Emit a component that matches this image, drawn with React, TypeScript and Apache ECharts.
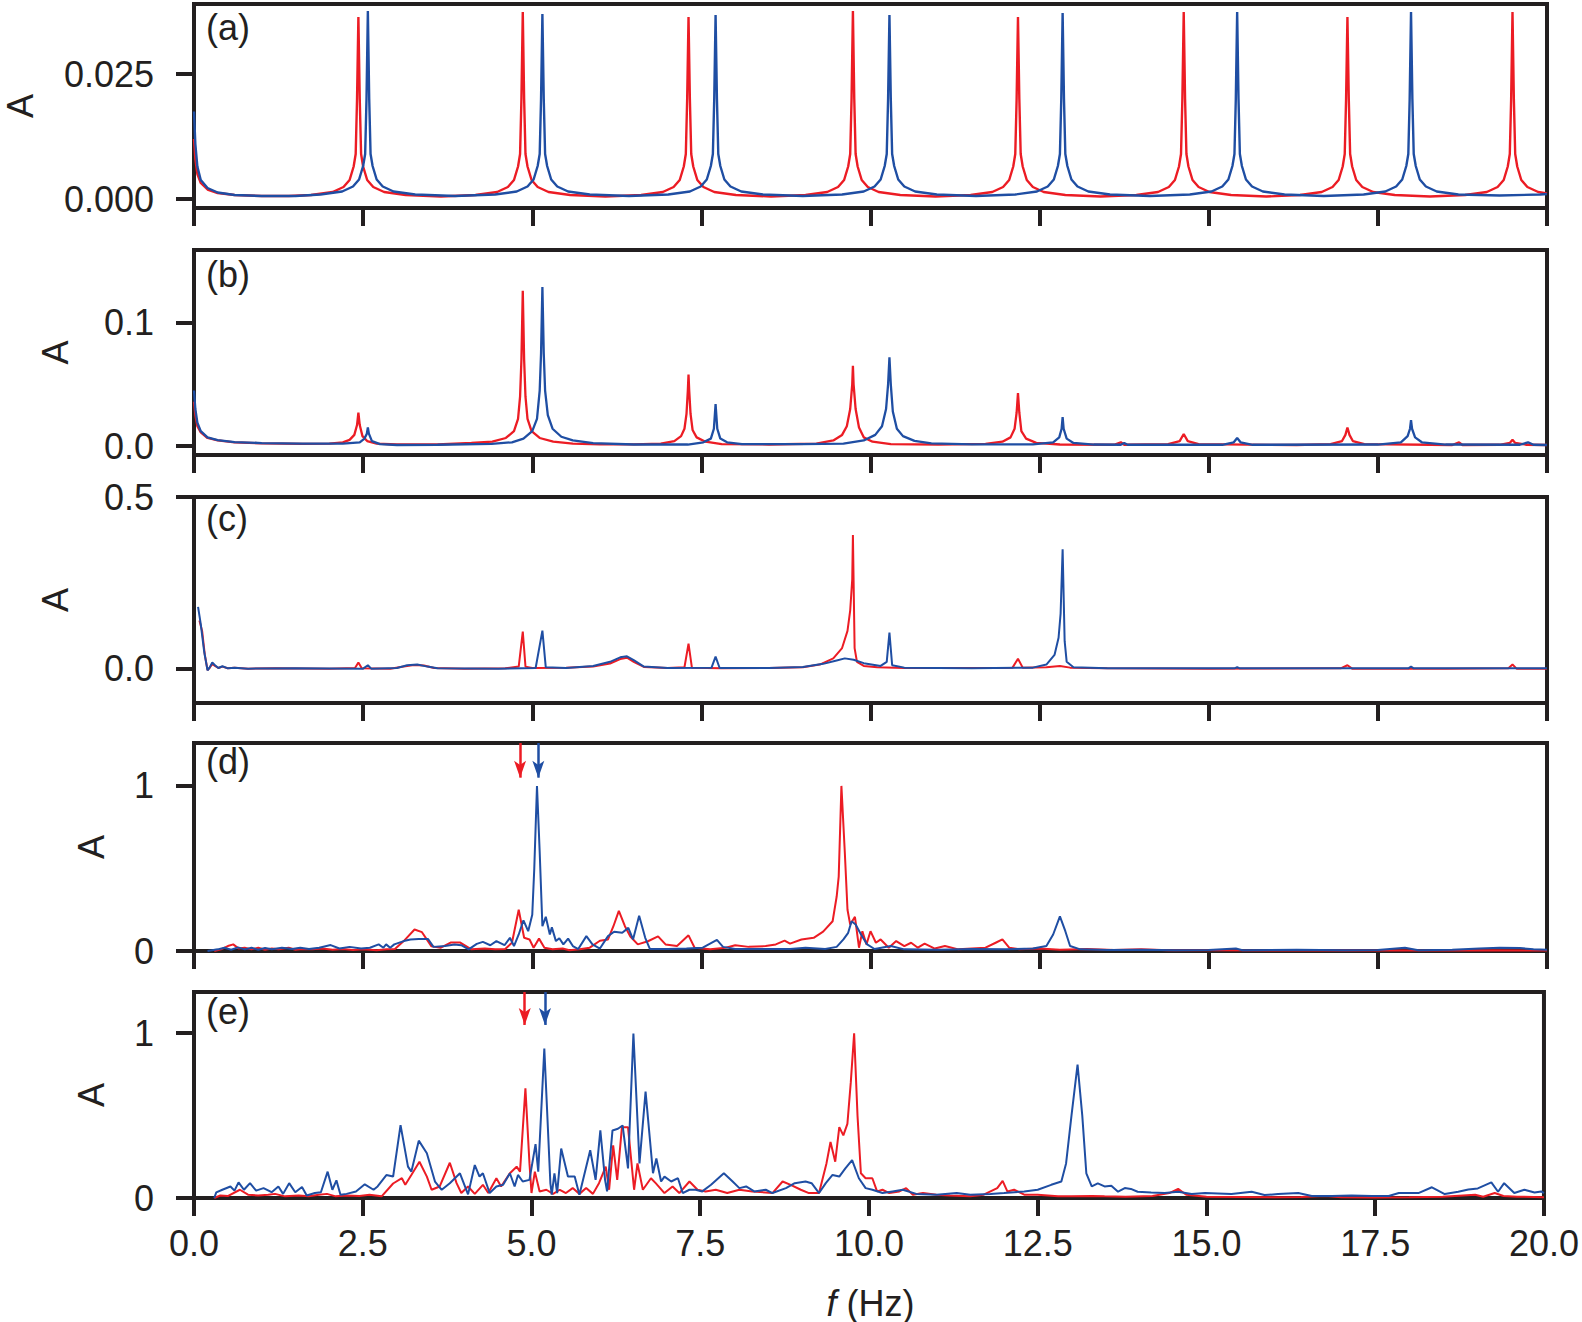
import React, { useEffect, useRef } from "react";
import * as echarts from "echarts";

const RED = "#ec1c24";
const BLUE = "#1f4ea3";
const INK = "#231f20";
const FONT = "'Liberation Sans', Arial, Helvetica, sans-serif";

// ---------- data ----------
const panelLabels = ["(a)", "(b)", "(c)", "(d)", "(e)"];
const yMin = [-0.0018, -0.0073, -0.1, 0, 0];
const yMax = [0.039, 0.159, 0.5, 1.26, 1.25];
const yTicks = [[0, 0.025], [0, 0.1], [0, 0.5], [0, 1], [0, 1]];
const yDecimals = [3, 1, 1, 0, 0];
const xMin = 0;
const xMax = 20;
const xStep = 2.5;
const dArrows = [4.82, 5.09]; // red, blue
const eArrows = [4.9, 5.2]; // red, blue
const arrowTip = 1.05;

const aRed: number[][] = [
  [0, 0.012], [0.02, 0.008], [0.05, 0.005], [0.1, 0.0032], [0.2, 0.0019], [0.35, 0.0012], [0.6, 0.0008], [1.0, 0.0006], [1.4, 0.0006],
  [1.73, 0.0008], [2.05, 0.0014], [2.21, 0.0024], [2.3, 0.0038], [2.36, 0.0065], [2.39, 0.009], [2.41, 0.02], [2.43, 0.0364], [2.45, 0.02], [2.47, 0.009], [2.5, 0.0065], [2.56, 0.0038], [2.65, 0.0024], [2.81, 0.0014], [3.13, 0.0008], [3.65, 0.0005],
  [4.16, 0.0008], [4.48, 0.0014], [4.64, 0.0024], [4.73, 0.0038], [4.79, 0.0065], [4.82, 0.009], [4.84, 0.02], [4.86, 0.0374], [4.88, 0.02], [4.9, 0.009], [4.93, 0.0065], [4.99, 0.0038], [5.08, 0.0024], [5.24, 0.0014], [5.56, 0.0008], [6.08, 0.0005],
  [6.61, 0.0008], [6.93, 0.0014], [7.09, 0.0024], [7.18, 0.0038], [7.24, 0.0065], [7.27, 0.009], [7.29, 0.02], [7.31, 0.0364], [7.33, 0.02], [7.35, 0.009], [7.38, 0.0065], [7.44, 0.0038], [7.53, 0.0024], [7.69, 0.0014], [8.01, 0.0008], [8.53, 0.0005],
  [9.04, 0.0008], [9.36, 0.0014], [9.52, 0.0024], [9.61, 0.0038], [9.67, 0.0065], [9.7, 0.009], [9.72, 0.02], [9.74, 0.0376], [9.76, 0.02], [9.78, 0.009], [9.81, 0.0065], [9.87, 0.0038], [9.96, 0.0024], [10.12, 0.0014], [10.44, 0.0008], [10.96, 0.0005],
  [11.48, 0.0008], [11.8, 0.0014], [11.96, 0.0024], [12.05, 0.0038], [12.11, 0.0065], [12.14, 0.009], [12.16, 0.02], [12.18, 0.0364], [12.2, 0.02], [12.22, 0.009], [12.25, 0.0065], [12.31, 0.0038], [12.4, 0.0024], [12.56, 0.0014], [12.88, 0.0008], [13.4, 0.0005],
  [13.93, 0.0008], [14.25, 0.0014], [14.41, 0.0024], [14.5, 0.0038], [14.56, 0.0065], [14.59, 0.009], [14.61, 0.02], [14.63, 0.0374], [14.65, 0.02], [14.67, 0.009], [14.7, 0.0065], [14.76, 0.0038], [14.85, 0.0024], [15.01, 0.0014], [15.33, 0.0008], [15.85, 0.0005],
  [16.35, 0.0008], [16.67, 0.0014], [16.83, 0.0024], [16.92, 0.0038], [16.98, 0.0065], [17.01, 0.009], [17.03, 0.02], [17.05, 0.0364], [17.07, 0.02], [17.09, 0.009], [17.12, 0.0065], [17.18, 0.0038], [17.27, 0.0024], [17.43, 0.0014], [17.75, 0.0008], [18.27, 0.0005],
  [18.79, 0.0008], [19.11, 0.0014], [19.27, 0.0024], [19.36, 0.0038], [19.42, 0.0065], [19.45, 0.009], [19.47, 0.02], [19.49, 0.0374], [19.51, 0.02], [19.53, 0.009], [19.56, 0.0065], [19.62, 0.0038], [19.71, 0.0024], [19.87, 0.0014], [20, 0.0011],
];

const aBlue: number[][] = [
  [0, 0.0175], [0.02, 0.011], [0.05, 0.0065], [0.1, 0.0038], [0.2, 0.0022], [0.35, 0.0013], [0.6, 0.0008], [1.0, 0.0006], [1.5, 0.0006],
  [1.87, 0.0009], [2.19, 0.0015], [2.35, 0.0025], [2.44, 0.0039], [2.5, 0.0066], [2.53, 0.009], [2.55, 0.02], [2.57, 0.0376], [2.59, 0.02], [2.61, 0.009], [2.64, 0.0066], [2.7, 0.0039], [2.79, 0.0025], [2.95, 0.0015], [3.27, 0.0009], [3.86, 0.0006],
  [4.45, 0.0009], [4.77, 0.0015], [4.93, 0.0025], [5.02, 0.0039], [5.08, 0.0066], [5.11, 0.009], [5.13, 0.02], [5.15, 0.037], [5.17, 0.02], [5.19, 0.009], [5.22, 0.0066], [5.28, 0.0039], [5.37, 0.0025], [5.53, 0.0015], [5.85, 0.0009], [6.43, 0.0006],
  [7.01, 0.0009], [7.33, 0.0015], [7.49, 0.0025], [7.58, 0.0039], [7.64, 0.0066], [7.67, 0.009], [7.69, 0.02], [7.71, 0.0368], [7.73, 0.02], [7.75, 0.009], [7.78, 0.0066], [7.84, 0.0039], [7.93, 0.0025], [8.09, 0.0015], [8.41, 0.0009], [9.0, 0.0006],
  [9.58, 0.0009], [9.9, 0.0015], [10.06, 0.0025], [10.15, 0.0039], [10.21, 0.0066], [10.24, 0.009], [10.26, 0.02], [10.28, 0.0368], [10.3, 0.02], [10.32, 0.009], [10.35, 0.0066], [10.41, 0.0039], [10.5, 0.0025], [10.66, 0.0015], [10.98, 0.0009], [11.56, 0.0006],
  [12.14, 0.0009], [12.46, 0.0015], [12.62, 0.0025], [12.71, 0.0039], [12.77, 0.0066], [12.8, 0.009], [12.82, 0.02], [12.84, 0.0372], [12.86, 0.02], [12.88, 0.009], [12.91, 0.0066], [12.97, 0.0039], [13.06, 0.0025], [13.22, 0.0015], [13.54, 0.0009], [14.13, 0.0006],
  [14.72, 0.0009], [15.04, 0.0015], [15.2, 0.0025], [15.29, 0.0039], [15.35, 0.0066], [15.38, 0.009], [15.4, 0.02], [15.42, 0.0374], [15.44, 0.02], [15.46, 0.009], [15.49, 0.0066], [15.55, 0.0039], [15.64, 0.0025], [15.8, 0.0015], [16.12, 0.0009], [16.7, 0.0006],
  [17.29, 0.0009], [17.61, 0.0015], [17.77, 0.0025], [17.86, 0.0039], [17.92, 0.0066], [17.95, 0.009], [17.97, 0.02], [17.99, 0.0374], [18.01, 0.02], [18.03, 0.009], [18.06, 0.0066], [18.12, 0.0039], [18.21, 0.0025], [18.37, 0.0015], [18.69, 0.0009], [19.3, 0.0007], [19.9, 0.0009], [20, 0.001],
];

const bRed: number[][] = [
  [0, 0.036], [0.02, 0.025], [0.05, 0.016], [0.1, 0.011], [0.2, 0.0065], [0.35, 0.0045], [0.6, 0.003], [1.0, 0.0022], [1.6, 0.0018],
  [2.0, 0.002], [2.2, 0.003], [2.3, 0.005], [2.37, 0.009], [2.41, 0.017], [2.43, 0.027], [2.45, 0.017], [2.49, 0.008], [2.56, 0.004], [2.7, 0.002], [3.0, 0.0012], [3.6, 0.0012],
  [4.1, 0.0025], [4.41, 0.0035], [4.61, 0.0065], [4.73, 0.012], [4.79, 0.022], [4.82, 0.04], [4.84, 0.07], [4.86, 0.126], [4.88, 0.07], [4.9, 0.04], [4.93, 0.022], [4.99, 0.012], [5.11, 0.0065], [5.31, 0.0035], [5.6, 0.002], [6.0, 0.0013], [6.5, 0.0014],
  [6.9, 0.002], [7.1, 0.004], [7.2, 0.008], [7.25, 0.014], [7.28, 0.026], [7.3, 0.045], [7.31, 0.058], [7.32, 0.045], [7.34, 0.026], [7.37, 0.013], [7.43, 0.007], [7.56, 0.0035], [7.8, 0.0016], [8.5, 0.0012],
  [9.2, 0.002], [9.45, 0.0045], [9.58, 0.009], [9.65, 0.016], [9.7, 0.03], [9.73, 0.05], [9.74, 0.065], [9.75, 0.05], [9.78, 0.03], [9.83, 0.015], [9.9, 0.007], [10.03, 0.0035], [10.3, 0.0016], [11.0, 0.0012],
  [11.7, 0.0018], [11.95, 0.0035], [12.07, 0.007], [12.13, 0.014], [12.16, 0.027], [12.18, 0.043], [12.2, 0.027], [12.23, 0.012], [12.3, 0.006], [12.45, 0.0025], [12.8, 0.0012], [13.6, 0.001], [13.7, 0.003], [13.75, 0.001],
  [14.4, 0.0015], [14.57, 0.004], [14.63, 0.0097], [14.69, 0.004], [14.85, 0.0015],
  [16.3, 0.0008], [16.8, 0.0015], [16.97, 0.004], [17.02, 0.009], [17.05, 0.015], [17.08, 0.009], [17.13, 0.004], [17.3, 0.0015], [18.6, 0.0008], [18.7, 0.003], [18.75, 0.0008],
  [19.3, 0.001], [19.45, 0.0025], [19.49, 0.005], [19.53, 0.0025], [19.7, 0.001], [20, 0.0008],
];

const bBlue: number[][] = [
  [0, 0.045], [0.02, 0.03], [0.05, 0.019], [0.1, 0.012], [0.2, 0.007], [0.35, 0.0048], [0.6, 0.0032], [1.0, 0.0024], [1.6, 0.002],
  [2.2, 0.002], [2.45, 0.003], [2.52, 0.006], [2.555, 0.01], [2.57, 0.015], [2.585, 0.01], [2.63, 0.004], [2.75, 0.0015], [3.0, 0.0008], [3.6, 0.001],
  [4.4, 0.0018], [4.7, 0.003], [4.87, 0.006], [5.0, 0.012], [5.07, 0.022], [5.11, 0.045], [5.13, 0.075], [5.15, 0.129], [5.17, 0.075], [5.19, 0.045], [5.23, 0.025], [5.3, 0.014], [5.43, 0.0075], [5.6, 0.0045], [5.9, 0.0024], [6.5, 0.0012],
  [7.3, 0.0012], [7.53, 0.003], [7.64, 0.006], [7.685, 0.014], [7.71, 0.034], [7.735, 0.014], [7.78, 0.006], [7.88, 0.003], [8.1, 0.0015], [9.0, 0.0015],
  [9.6, 0.002], [9.9, 0.0045], [10.07, 0.009], [10.17, 0.016], [10.23, 0.03], [10.26, 0.05], [10.28, 0.072], [10.3, 0.05], [10.33, 0.028], [10.39, 0.014], [10.48, 0.008], [10.65, 0.0042], [10.9, 0.0022], [11.5, 0.0014],
  [12.4, 0.0014], [12.7, 0.003], [12.79, 0.007], [12.825, 0.014], [12.84, 0.0235], [12.855, 0.014], [12.9, 0.006], [13.0, 0.0025], [13.3, 0.0012], [13.7, 0.001], [13.75, 0.0025], [13.8, 0.001],
  [15.2, 0.001], [15.37, 0.003], [15.42, 0.0065], [15.47, 0.003], [15.65, 0.001],
  [17.5, 0.0012], [17.84, 0.003], [17.94, 0.008], [17.975, 0.014], [17.99, 0.021], [18.005, 0.014], [18.05, 0.007], [18.15, 0.003], [18.5, 0.0012], [19.6, 0.001], [19.72, 0.003], [19.8, 0.001], [20, 0.0008],
];

const cRed: number[][] = [
  [0.08, 0.14], [0.12, 0.11], [0.16, 0.04], [0.2, -0.004], [0.23, 0.002], [0.27, 0.014], [0.31, 0.008], [0.36, 0.002], [0.42, 0.006], [0.5, 0.001], [0.6, 0.003], [0.8, 0.0], [1.2, 0.001], [2.0, 0.0],
  [2.38, 0.002], [2.43, 0.018], [2.48, 0.001], [2.9, 0.0], [3.1, 0.006], [3.25, 0.011], [3.4, 0.009], [3.55, 0.002], [4.0, 0.0], [4.6, 0.001], [4.8, 0.006], [4.86, 0.108], [4.9, 0.006], [5.0, 0.002],
  [5.5, 0.003], [5.9, 0.006], [6.15, 0.015], [6.3, 0.028], [6.4, 0.032], [6.5, 0.02], [6.65, 0.005], [7.0, 0.002], [7.25, 0.004], [7.31, 0.073], [7.36, 0.003], [7.8, 0.001], [8.5, 0.002],
  [9.0, 0.004], [9.25, 0.012], [9.45, 0.03], [9.58, 0.06], [9.66, 0.11], [9.7, 0.17], [9.73, 0.26], [9.74, 0.389], [9.765, 0.06], [9.8, 0.02], [9.9, 0.008], [10.1, 0.004], [10.5, 0.002], [11.0, 0.002],
  [12.1, 0.003], [12.18, 0.029], [12.25, 0.003], [12.6, 0.004], [12.8, 0.008], [12.95, 0.003], [13.5, 0.001], [15.0, 0.0], [16.95, 0.001], [17.05, 0.01], [17.12, 0.0], [18.5, 0.0],
  [19.43, 0.001], [19.49, 0.012], [19.55, 0.0], [20, 0.0],
];

const cBlue: number[][] = [
  [0.06, 0.18], [0.1, 0.13], [0.15, 0.05], [0.2, -0.005], [0.23, 0.003], [0.27, 0.018], [0.31, 0.01], [0.36, 0.002], [0.42, 0.007], [0.5, 0.001], [0.6, 0.003], [0.8, 0.0], [1.5, 0.001], [2.5, 0.0],
  [2.57, 0.01], [2.62, 0.0], [3.0, 0.002], [3.15, 0.01], [3.3, 0.012], [3.45, 0.006], [3.6, 0.001], [4.5, 0.0], [5.05, 0.002], [5.15, 0.111], [5.2, 0.004], [5.5, 0.002],
  [5.9, 0.008], [6.15, 0.02], [6.3, 0.033], [6.4, 0.036], [6.5, 0.025], [6.65, 0.006], [7.0, 0.002], [7.65, 0.003], [7.71, 0.035], [7.77, 0.002], [8.5, 0.002],
  [9.0, 0.005], [9.3, 0.014], [9.5, 0.024], [9.62, 0.03], [9.75, 0.026], [9.9, 0.016], [10.15, 0.008], [10.24, 0.02], [10.28, 0.105], [10.32, 0.01], [10.5, 0.003], [11.5, 0.001],
  [12.4, 0.003], [12.6, 0.012], [12.72, 0.04], [12.78, 0.09], [12.81, 0.16], [12.84, 0.348], [12.87, 0.08], [12.9, 0.02], [13.0, 0.004], [13.5, 0.001],
  [15.38, 0.001], [15.42, 0.004], [15.46, 0.001], [17.95, 0.001], [17.99, 0.006], [18.03, 0.001], [20, 0.001],
];

const dRed: number[][] = [
  [0.3, 0.0], [0.4, 0.01], [0.5, 0.03], [0.58, 0.04], [0.66, 0.015], [0.75, 0.02], [0.85, 0.01], [0.95, 0.02], [1.05, 0.008], [1.15, 0.015], [1.25, 0.01], [1.4, 0.02], [1.5, 0.008], [1.6, 0.012],
  [1.75, 0.01], [1.9, 0.015], [2.05, 0.008], [2.2, 0.012], [2.35, 0.006], [2.5, 0.01], [2.7, 0.005], [2.85, 0.01], [2.97, 0.012], [3.1, 0.06], [3.26, 0.13], [3.37, 0.114], [3.51, 0.028], [3.65, 0.02],
  [3.8, 0.052], [3.93, 0.052], [4.1, 0.01], [4.3, 0.015], [4.45, 0.01], [4.6, 0.012], [4.7, 0.05], [4.8, 0.25], [4.88, 0.08], [4.96, 0.07], [5.02, 0.02], [5.1, 0.075], [5.18, 0.02], [5.3, 0.01],
  [5.45, 0.015], [5.55, 0.005], [5.7, 0.01], [5.85, 0.02], [6.0, 0.062], [6.12, 0.07], [6.2, 0.15], [6.28, 0.243], [6.37, 0.15], [6.45, 0.088], [6.56, 0.04], [6.71, 0.059], [6.86, 0.089], [6.97, 0.04],
  [7.14, 0.03], [7.31, 0.095], [7.4, 0.02], [7.63, 0.01], [7.86, 0.02], [8.0, 0.035], [8.2, 0.025], [8.45, 0.03], [8.6, 0.04], [8.73, 0.063], [8.81, 0.045], [8.98, 0.07], [9.16, 0.08], [9.3, 0.117],
  [9.44, 0.18], [9.5, 0.33], [9.53, 0.45], [9.57, 1.0], [9.62, 0.6], [9.66, 0.25], [9.7, 0.16], [9.77, 0.207], [9.83, 0.02], [9.88, 0.12], [9.94, 0.04], [10.0, 0.12], [10.08, 0.05], [10.15, 0.07],
  [10.27, 0.02], [10.38, 0.06], [10.5, 0.03], [10.6, 0.05], [10.7, 0.02], [10.8, 0.045], [10.95, 0.015], [11.1, 0.03], [11.3, 0.01], [11.5, 0.015], [11.7, 0.02], [11.85, 0.05], [11.95, 0.07], [12.05, 0.02],
  [12.2, 0.01], [12.5, 0.015], [12.8, 0.008], [13.2, 0.012], [13.6, 0.006], [14.0, 0.01], [14.4, 0.005], [15.0, 0.004], [16.0, 0.003], [17.0, 0.004], [18.0, 0.003], [19.0, 0.005], [20, 0.003],
];

const dBlue: number[][] = [
  [0.2, 0.0], [0.35, 0.01], [0.45, 0.02], [0.55, 0.008], [0.65, 0.022], [0.75, 0.01], [0.85, 0.02], [0.95, 0.008], [1.05, 0.018], [1.15, 0.01], [1.3, 0.02], [1.45, 0.012], [1.57, 0.02], [1.7, 0.012],
  [1.85, 0.02], [2.02, 0.036], [2.15, 0.015], [2.3, 0.025], [2.47, 0.015], [2.6, 0.02], [2.73, 0.04], [2.8, 0.02], [2.84, 0.04], [2.9, 0.02], [2.96, 0.04], [3.1, 0.06], [3.2, 0.07], [3.32, 0.073],
  [3.46, 0.073], [3.54, 0.025], [3.71, 0.03], [3.85, 0.04], [3.95, 0.035], [4.06, 0.01], [4.18, 0.043], [4.27, 0.055], [4.38, 0.035], [4.47, 0.06], [4.59, 0.035], [4.67, 0.08], [4.73, 0.03], [4.8, 0.1],
  [4.87, 0.186], [4.94, 0.12], [5.0, 0.22], [5.03, 0.5], [5.07, 1.0], [5.11, 0.6], [5.15, 0.15], [5.2, 0.207], [5.26, 0.1], [5.29, 0.143], [5.35, 0.06], [5.4, 0.077], [5.46, 0.04], [5.53, 0.075],
  [5.6, 0.03], [5.68, 0.012], [5.8, 0.09], [5.89, 0.04], [6.0, 0.015], [6.12, 0.09], [6.21, 0.117], [6.33, 0.11], [6.42, 0.14], [6.49, 0.07], [6.58, 0.213], [6.67, 0.08], [6.74, 0.012], [7.0, 0.012],
  [7.28, 0.015], [7.52, 0.02], [7.73, 0.067], [7.82, 0.025], [8.0, 0.012], [8.45, 0.012], [8.81, 0.012], [9.04, 0.02], [9.33, 0.012], [9.5, 0.025], [9.6, 0.07], [9.67, 0.11], [9.72, 0.18], [9.78, 0.16],
  [9.86, 0.1], [9.95, 0.04], [10.06, 0.012], [10.3, 0.03], [10.5, 0.01], [11.0, 0.008], [11.5, 0.012], [12.0, 0.01], [12.4, 0.015], [12.6, 0.03], [12.7, 0.1], [12.8, 0.21], [12.88, 0.12], [12.95, 0.03],
  [13.1, 0.01], [13.5, 0.006], [14.0, 0.008], [14.5, 0.004], [15.0, 0.006], [15.4, 0.015], [15.5, 0.004], [16.3, 0.008], [17.0, 0.005], [17.5, 0.006], [17.9, 0.02], [18.1, 0.005], [18.6, 0.008], [19.0, 0.015],
  [19.3, 0.02], [19.6, 0.018], [19.8, 0.01], [20, 0.008],
];

const eRed: number[][] = [
  [0.3, 0.0], [0.39, 0.015], [0.5, 0.012], [0.68, 0.05], [0.8, 0.02], [0.95, 0.015], [1.1, 0.02], [1.2, 0.025], [1.35, 0.01], [1.55, 0.015], [1.7, 0.01], [1.85, 0.02], [1.97, 0.025], [2.1, 0.01],
  [2.26, 0.015], [2.45, 0.012], [2.6, 0.02], [2.78, 0.01], [2.95, 0.088], [3.08, 0.12], [3.13, 0.08], [3.22, 0.139], [3.34, 0.22], [3.45, 0.13], [3.52, 0.05], [3.64, 0.07], [3.79, 0.214], [3.89, 0.09],
  [3.96, 0.03], [4.06, 0.07], [4.16, 0.025], [4.28, 0.08], [4.36, 0.03], [4.48, 0.12], [4.55, 0.07], [4.68, 0.15], [4.78, 0.19], [4.83, 0.16], [4.91, 0.665], [4.97, 0.21], [5.0, 0.03], [5.05, 0.16],
  [5.12, 0.04], [5.22, 0.05], [5.32, 0.025], [5.42, 0.05], [5.51, 0.03], [5.61, 0.06], [5.71, 0.025], [5.81, 0.06], [5.91, 0.025], [6.0, 0.09], [6.1, 0.19], [6.15, 0.05], [6.21, 0.32], [6.27, 0.11],
  [6.34, 0.43], [6.43, 0.43], [6.52, 0.05], [6.57, 0.21], [6.65, 0.05], [6.77, 0.12], [6.84, 0.09], [6.97, 0.03], [7.09, 0.07], [7.19, 0.03], [7.34, 0.1], [7.46, 0.05], [7.58, 0.04], [7.73, 0.05],
  [7.9, 0.03], [8.08, 0.05], [8.27, 0.04], [8.57, 0.03], [8.72, 0.1], [8.84, 0.08], [8.99, 0.05], [9.11, 0.03], [9.26, 0.03], [9.37, 0.21], [9.43, 0.34], [9.5, 0.22], [9.56, 0.43], [9.62, 0.38],
  [9.68, 0.45], [9.73, 0.7], [9.78, 1.0], [9.83, 0.5], [9.88, 0.15], [9.95, 0.12], [10.05, 0.12], [10.12, 0.04], [10.2, 0.05], [10.3, 0.03], [10.45, 0.04], [10.55, 0.06], [10.65, 0.02], [10.8, 0.03],
  [11.0, 0.02], [11.2, 0.015], [11.5, 0.01], [11.7, 0.02], [11.9, 0.06], [11.98, 0.104], [12.05, 0.04], [12.15, 0.05], [12.3, 0.02], [12.5, 0.02], [12.8, 0.01], [13.0, 0.01], [13.3, 0.012], [13.49, 0.01],
  [13.8, 0.008], [14.2, 0.012], [14.45, 0.03], [14.58, 0.055], [14.7, 0.02], [15.0, 0.008], [15.5, 0.006], [16.0, 0.004], [16.4, 0.006], [16.76, 0.012], [17.0, 0.004], [17.5, 0.003], [18.0, 0.005], [18.5, 0.008],
  [18.98, 0.02], [19.1, 0.008], [19.27, 0.03], [19.4, 0.012], [19.6, 0.008], [20, 0.005],
];

const eBlue: number[][] = [
  [0.3, 0.0], [0.33, 0.034], [0.42, 0.05], [0.54, 0.07], [0.6, 0.045], [0.66, 0.095], [0.74, 0.05], [0.83, 0.09], [0.92, 0.045], [1.03, 0.06], [1.15, 0.035], [1.25, 0.07], [1.32, 0.025], [1.41, 0.09],
  [1.5, 0.035], [1.6, 0.067], [1.67, 0.015], [1.79, 0.03], [1.88, 0.035], [1.98, 0.16], [2.05, 0.05], [2.11, 0.107], [2.17, 0.02], [2.26, 0.025], [2.4, 0.04], [2.53, 0.083], [2.66, 0.05], [2.72, 0.07],
  [2.85, 0.139], [2.95, 0.13], [3.06, 0.442], [3.17, 0.19], [3.22, 0.16], [3.33, 0.348], [3.45, 0.272], [3.57, 0.1], [3.67, 0.05], [3.79, 0.089], [3.94, 0.15], [4.06, 0.022], [4.16, 0.2], [4.23, 0.13],
  [4.28, 0.15], [4.38, 0.03], [4.48, 0.07], [4.58, 0.08], [4.68, 0.15], [4.75, 0.07], [4.8, 0.14], [4.87, 0.1], [4.97, 0.11], [5.06, 0.327], [5.1, 0.16], [5.19, 0.907], [5.28, 0.088], [5.3, 0.02],
  [5.34, 0.15], [5.38, 0.03], [5.44, 0.3], [5.54, 0.13], [5.64, 0.13], [5.71, 0.02], [5.87, 0.29], [5.95, 0.11], [6.02, 0.41], [6.09, 0.11], [6.12, 0.04], [6.2, 0.41], [6.28, 0.42], [6.35, 0.44],
  [6.43, 0.18], [6.51, 0.998], [6.6, 0.21], [6.69, 0.645], [6.8, 0.15], [6.85, 0.24], [6.92, 0.1], [6.97, 0.13], [7.07, 0.1], [7.17, 0.12], [7.24, 0.03], [7.34, 0.05], [7.43, 0.05], [7.53, 0.04],
  [7.66, 0.08], [7.85, 0.15], [7.98, 0.1], [8.08, 0.06], [8.18, 0.07], [8.3, 0.04], [8.47, 0.05], [8.57, 0.03], [8.77, 0.06], [8.9, 0.09], [9.06, 0.1], [9.15, 0.09], [9.26, 0.03], [9.36, 0.09],
  [9.46, 0.14], [9.56, 0.13], [9.65, 0.18], [9.75, 0.23], [9.85, 0.12], [9.95, 0.06], [10.05, 0.05], [10.2, 0.03], [10.35, 0.04], [10.5, 0.05], [10.7, 0.025], [11.0, 0.02], [11.3, 0.03], [11.5, 0.02],
  [11.8, 0.025], [12.0, 0.03], [12.3, 0.04], [12.5, 0.05], [12.7, 0.08], [12.85, 0.1], [12.92, 0.21], [13.0, 0.5], [13.09, 0.81], [13.16, 0.5], [13.22, 0.15], [13.3, 0.07], [13.39, 0.089], [13.49, 0.07],
  [13.59, 0.075], [13.69, 0.038], [13.79, 0.06], [13.88, 0.055], [13.98, 0.038], [14.18, 0.033], [14.38, 0.03], [14.58, 0.038], [14.78, 0.024], [14.98, 0.03], [15.17, 0.028], [15.37, 0.024], [15.67, 0.038], [15.86, 0.018],
  [16.06, 0.024], [16.36, 0.03], [16.56, 0.012], [16.86, 0.012], [17.15, 0.015], [17.45, 0.012], [17.7, 0.012], [17.85, 0.03], [18.14, 0.03], [18.34, 0.065], [18.53, 0.024], [18.73, 0.038], [18.88, 0.052], [19.02, 0.058],
  [19.22, 0.095], [19.32, 0.038], [19.41, 0.09], [19.56, 0.03], [19.71, 0.05], [19.86, 0.033], [19.96, 0.04], [20, 0.03],
];

const redSeries = [aRed, bRed, cRed, dRed, eRed];
const blueSeries = [aBlue, bBlue, cBlue, dBlue, eBlue];

// ---------- layout (pixels) ----------
const GRID_LEFT = 194;
const GRID_WIDTH = 1353;
const GRID_TOP = [4, 250, 497, 743, 992];
const GRID_H = [204, 205, 206, 208, 206];
const LABEL_Y = [27, 274, 518, 761, 1011];
const ALABEL_X = [20, 55, 55, 91, 91];
const LINE_W = [2.4, 2.3, 2, 2, 2];
const FS = 36;

function arrowMark(x: number, top: number, color: string) {
  return {
    silent: true,
    symbol: ["none", "arrow"],
    symbolSize: [9, 17],
    label: { show: false },
    lineStyle: { color, width: 2.5, type: "solid" },
    emphasis: { disabled: true },
    data: [[{ coord: [x, top] }, { coord: [x, arrowTip] }]],
  };
}

function buildOption() {
  const grids: any[] = [];
  const xAxes: any[] = [];
  const yAxes: any[] = [];
  const series: any[] = [];
  const graphics: any[] = [];

  for (let i = 0; i < 5; i++) {
    grids.push({
      left: GRID_LEFT,
      width: GRID_WIDTH,
      top: GRID_TOP[i],
      height: GRID_H[i],
      show: true,
      borderColor: INK,
      borderWidth: 4,
      backgroundColor: "transparent",
      containLabel: false,
    });
    xAxes.push({
      type: "value",
      gridIndex: i,
      min: xMin,
      max: xMax,
      interval: xStep,
      axisLine: { show: true, onZero: false, lineStyle: { color: INK, width: 4 } },
      axisTick: { show: true, inside: false, length: 18, lineStyle: { color: INK, width: 4 } },
      axisLabel: {
        show: i === 4,
        fontSize: FS,
        fontFamily: FONT,
        color: INK,
        margin: 27,
        formatter: (v: number) => v.toFixed(1),
      },
      splitLine: { show: false },
    });
    const dec = yDecimals[i];
    yAxes.push({
      type: "value",
      gridIndex: i,
      min: yMin[i],
      max: yMax[i],
      axisLine: { show: true, onZero: false, lineStyle: { color: INK, width: 4 } },
      axisTick: {
        show: true,
        inside: false,
        length: 18,
        lineStyle: { color: INK, width: 4 },
        customValues: yTicks[i],
      },
      axisLabel: {
        show: true,
        fontSize: FS,
        fontFamily: FONT,
        color: INK,
        margin: 40,
        customValues: yTicks[i],
        formatter: (v: number) => v.toFixed(dec),
      },
      splitLine: { show: false },
    });

    const redS: any = {
      type: "line",
      xAxisIndex: i,
      yAxisIndex: i,
      data: redSeries[i],
      showSymbol: false,
      symbol: "none",
      lineStyle: { color: RED, width: LINE_W[i] },
      itemStyle: { color: RED },
      z: 3,
      silent: true,
    };
    const blueS: any = {
      type: "line",
      xAxisIndex: i,
      yAxisIndex: i,
      data: blueSeries[i],
      showSymbol: false,
      symbol: "none",
      lineStyle: { color: BLUE, width: LINE_W[i] },
      itemStyle: { color: BLUE },
      z: 4,
      silent: true,
    };
    if (i === 3) {
      redS.markLine = arrowMark(dArrows[0], yMax[3], RED);
      blueS.markLine = arrowMark(dArrows[1], yMax[3], BLUE);
    }
    if (i === 4) {
      redS.markLine = arrowMark(eArrows[0], yMax[4], RED);
      blueS.markLine = arrowMark(eArrows[1], yMax[4], BLUE);
    }
    series.push(redS, blueS);

    graphics.push({
      type: "text",
      x: 206,
      y: LABEL_Y[i],
      z: 100,
      style: {
        text: panelLabels[i],
        fontSize: FS,
        fontFamily: FONT,
        fill: INK,
        align: "left",
        verticalAlign: "middle",
        textAlign: "left",
        textVerticalAlign: "middle",
      },
    });
    graphics.push({
      type: "text",
      x: ALABEL_X[i],
      y: GRID_TOP[i] + GRID_H[i] / 2,
      rotation: Math.PI / 2,
      z: 100,
      style: {
        text: "A",
        fontSize: FS,
        fontFamily: FONT,
        fill: INK,
        align: "center",
        verticalAlign: "middle",
        textAlign: "center",
        textVerticalAlign: "middle",
      },
    });
  }

  graphics.push({
    type: "text",
    x: GRID_LEFT + GRID_WIDTH / 2,
    y: 1303,
    z: 100,
    style: {
      text: "{i|f} (Hz)",
      fontSize: FS,
      fontFamily: FONT,
      fill: INK,
      align: "center",
      verticalAlign: "middle",
      textAlign: "center",
      textVerticalAlign: "middle",
      rich: {
        i: { fontStyle: "italic", fontSize: FS, fontFamily: FONT, fill: INK, color: INK },
      },
    },
  });

  return {
    animation: false,
    backgroundColor: "#ffffff",
    textStyle: { fontFamily: FONT, color: INK },
    grid: grids,
    xAxis: xAxes,
    yAxis: yAxes,
    series,
    graphic: { elements: graphics },
  };
}

export default function App() {
  const ref = useRef<HTMLDivElement | null>(null);
  useEffect(() => {
    if (!ref.current) return;
    const chart = echarts.init(ref.current, null, { renderer: "svg" });
    chart.setOption(buildOption() as any);
    return () => {
      chart.dispose();
    };
  }, []);
  return (
    <div
      ref={ref}
      style={{ position: "absolute", left: 0, top: 0, width: 1582, height: 1322, background: "#fff" }}
    />
  );
}
